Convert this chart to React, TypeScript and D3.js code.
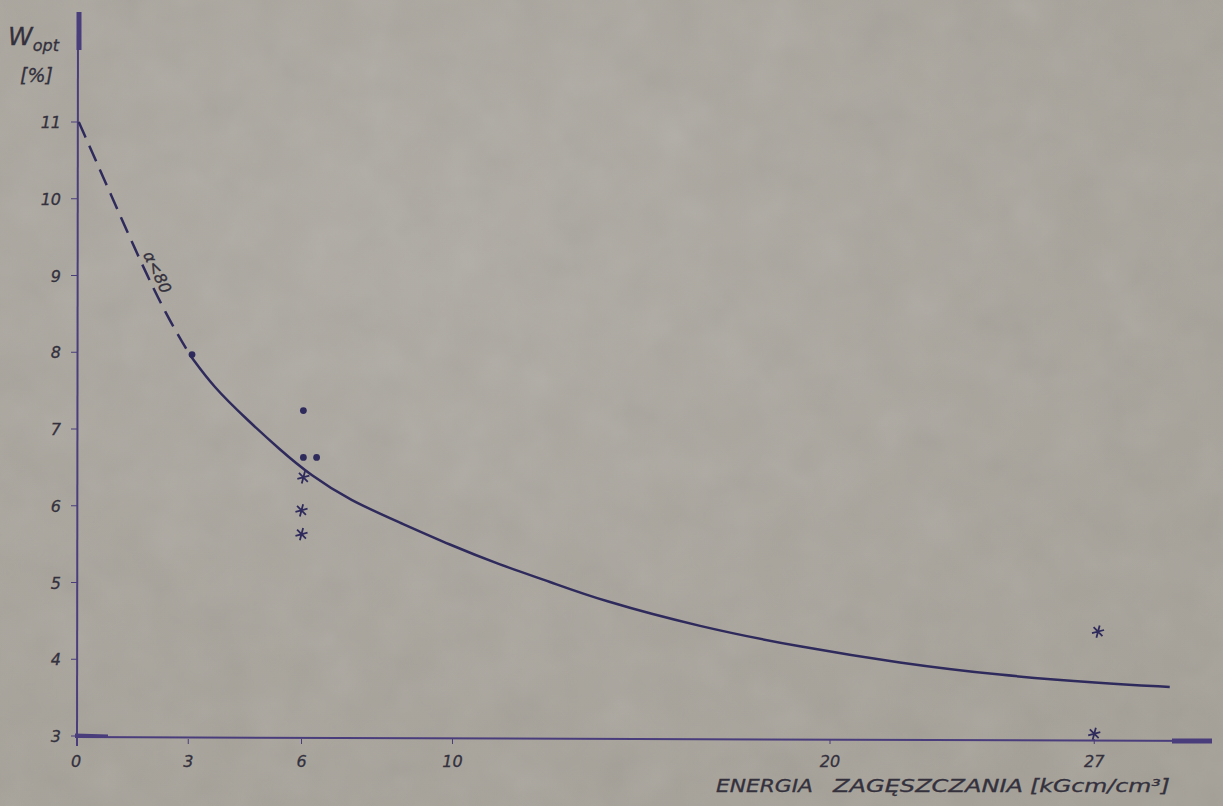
import * as d3 from "d3";

// axis ticks
const xTicks = [0, 3, 6, 10, 20, 27];
const xTickLabels = ["0", "3", "6", "10", "20", "27"];
const yTicks = [3, 4, 5, 6, 7, 8, 9, 10, 11];

// fitted curve (solid part)
const curveX = [3.05, 3.66, 4.56, 5.43, 6.23, 7.28, 8.61, 9.93, 11.26, 12.58, 13.91, 16.56, 19.2, 21.85, 24.5, 27.15, 29.0];
const curveY = [7.96, 7.55, 7.12, 6.73, 6.4, 6.07, 5.78, 5.49, 5.23, 5.01, 4.77, 4.42, 4.16, 3.95, 3.79, 3.69, 3.64];

// extrapolated part (dashed)
const dashX = [0.1, 1.0, 1.7, 2.4, 3.05];
const dashY = [11.0, 10.0, 9.22, 8.5, 7.96];

// measurements
const dotX = [3.1, 6.05, 6.05, 6.4];
const dotY = [7.97, 7.24, 6.63, 6.63];
const starX = [6.05, 6.0, 6.0, 27.1, 27.0];
const starY = [6.37, 5.94, 5.63, 4.36, 3.03];

const W = 1223;
const H = 806;
const ink = "#2f2a5c";
const axisColor = "#4a3d7c";
const textColor = "#34313d";
const font = "'DejaVu Sans', sans-serif";

export default function App() {
  const x = d3.scaleLinear().domain([0, 20]).range([75, 830]);
  const y = d3.scaleLinear().domain([3, 11]).range([736, 122]);

  const line = d3
    .line<number>()
    .x((_, i) => x(curveX[i]))
    .y((d) => y(d))
    .curve(d3.curveBasis);
  const dashLine = d3
    .line<number>()
    .x((_, i) => x(dashX[i]))
    .y((d) => y(d))
    .curve(d3.curveBasis);
  const star = d3.symbol().type(d3.symbolAsterisk).size(110)();

  const axisY = 739;
  const labelAngle = (Math.atan2(y(dashY[4]) - y(dashY[0]), x(dashX[4]) - x(dashX[0])) * 180) / Math.PI;

  const txt = {
    fontStyle: "italic",
    fontFamily: font,
    fill: textColor,
    stroke: textColor,
    strokeWidth: 0.3,
  } as const;

  return (
    <svg width={W} height={H} style={{ position: "absolute", left: 0, top: 0 }}>
      <defs>
        <filter id="grain" x="0" y="0" width="100%" height="100%">
          <feTurbulence type="fractalNoise" baseFrequency="0.02" numOctaves={3} seed={4} />
          <feColorMatrix type="saturate" values="0" />
        </filter>
        <radialGradient id="paper" cx="0.35" cy="0.3" r="0.9">
          <stop offset="0" stopColor="#afaba4" />
          <stop offset="1" stopColor="#a4a097" />
        </radialGradient>
      </defs>
      <rect width={W} height={H} fill="url(#paper)" />
      <rect width={W} height={H} filter="url(#grain)" opacity={0.12} />

      {/* y axis */}
      <line x1={77} x2={78} y1={746} y2={12} stroke={axisColor} strokeWidth={2} />
      <line x1={79} x2={79} y1={12} y2={50} stroke={axisColor} strokeWidth={5} />
      {yTicks.map((t) => (
        <g key={t}>
          <line x1={71} x2={77} y1={y(t)} y2={y(t)} stroke={axisColor} strokeWidth={1} />
          <text x={61} y={y(t) + 6} textAnchor="end" fontSize={16} {...txt}>
            {t}
          </text>
        </g>
      ))}
      <text x={8} y={45} fontSize={25} {...txt}>
        W<tspan fontSize={16} dy={6}>opt</tspan>
      </text>
      <text x={20} y={82} fontSize={19} {...txt}>
        [%]
      </text>

      {/* x axis */}
      <line x1={75} x2={1212} y1={axisY - 2} y2={axisY + 2} stroke={axisColor} strokeWidth={2} />
      <line x1={75} x2={108} y1={735} y2={736} stroke={axisColor} strokeWidth={3} />
      <line x1={1172} x2={1212} y1={axisY + 2} y2={axisY + 2} stroke={axisColor} strokeWidth={5} />
      {xTicks.map((t, i) => (
        <g key={t}>
          {t > 0 && <line x1={x(t)} x2={x(t)} y1={axisY} y2={axisY + 5} stroke={axisColor} strokeWidth={1} />}
          <text x={x(t) + (t === 0 ? 1 : 0)} y={767} textAnchor="middle" fontSize={16} {...txt}>
            {xTickLabels[i]}
          </text>
        </g>
      ))}
      <text x={716} y={792} fontSize={17} {...txt} textLength={97} lengthAdjust="spacingAndGlyphs">
        ENERGIA
      </text>
      <text x={833} y={792} fontSize={17} {...txt} textLength={190} lengthAdjust="spacingAndGlyphs">
        ZAGĘSZCZANIA
      </text>
      <text x={1030} y={792} fontSize={17} {...txt} textLength={140} lengthAdjust="spacingAndGlyphs">
        [kGcm/cm³]
      </text>

      {/* curves */}
      <path d={dashLine(dashY) ?? ""} fill="none" stroke={ink} strokeWidth={2.5} strokeDasharray="17 9" />
      <path d={line(curveY) ?? ""} fill="none" stroke={ink} strokeWidth={2.5} />
      <text
        transform={`translate(${x(2.17)},${y(9.04)}) rotate(${labelAngle})`}
        fontSize={16}
        {...txt}
        textAnchor="middle"
        dy={5}
      >
        α&lt;80
      </text>

      {/* points */}
      {dotX.map((d, i) => (
        <circle key={i} cx={x(d)} cy={y(dotY[i])} r={3.4} fill={ink} />
      ))}
      {starX.map((d, i) => (
        <path
          key={i}
          d={star ?? ""}
          transform={`translate(${x(d)},${y(starY[i])}) rotate(15)`}
          fill="none"
          stroke={ink}
          strokeWidth={1.8}
        />
      ))}
    </svg>
  );
}
